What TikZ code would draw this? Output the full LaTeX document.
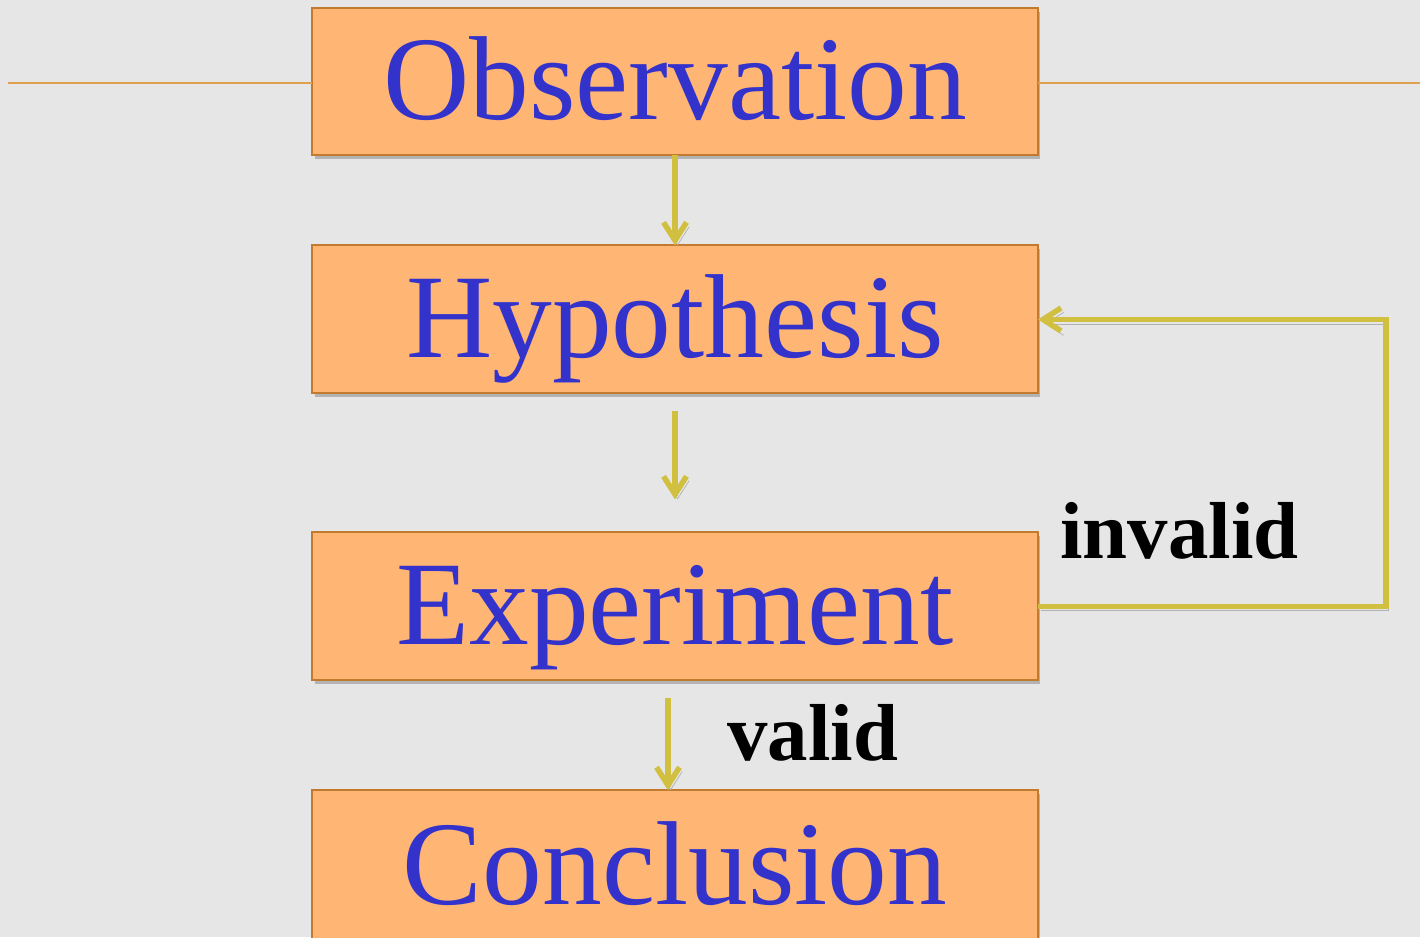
\documentclass[tikz,border=0pt]{standalone}
\usepackage{fontspec}
\setmainfont{Liberation Serif}
\usepackage{xcolor}
\usepackage{tikz}
\usetikzlibrary{arrows.meta,positioning,shadows}
\definecolor{sciback}{HTML}{E6E6E6}
\definecolor{scifill}{HTML}{FFB574}
\definecolor{sciedge}{HTML}{C27A2E}
\definecolor{sciblue}{HTML}{3333CC}
\definecolor{sciarrow}{HTML}{D1BF3F}
\definecolor{scirule}{HTML}{E0A050}

\begin{document}
\begin{tikzpicture}[
  x=0.02cm,y=-0.02cm,
  node distance=1.8cm,
  stage/.style={draw=sciedge,line width=0.04cm,fill=scifill,minimum width=14.52cm,minimum height=2.96cm,
    inner sep=0pt,outer sep=0pt,text=sciblue,font=\fontsize{68}{80}\selectfont,text height=54pt,text depth=11pt,
    drop shadow={shadow xshift=0.05cm,shadow yshift=-0.08cm,opacity=0.22,fill=black}},
  verdict/.style={font=\fontsize{46}{54}\selectfont\bfseries,text=black,inner sep=0pt},
  arr/.style={draw=sciarrow,line width=0.11cm,-{Straight Barb[length=3.6mm,width=4.6mm]},
    preaction={draw=black!30,transform canvas={xshift=1.5pt,yshift=-2.5pt}}},
  rule/.style={draw=scirule,line width=0.04cm}
]
\path[use as bounding box,fill=sciback] (0,0) rectangle (1420,937);
\clip (0,0) rectangle (1420,937);

\coordinate (ruleleft) at (8,83);
\coordinate (ruleright) at (1420,83);

\node[stage] (obs) at (675,81.5) {Observation};
\node[stage,below=1.8cm of obs] (hyp) {Hypothesis};
\node[stage,below=2.78cm of hyp] (exp) {Experiment};
\node[stage,below=2.2cm of exp,minimum height=3.04cm] (con) {Conclusion};

\draw[rule] ([yshift=-0.03cm]obs.west) -- ([yshift=-0.03cm]obs.west -| ruleleft);
\draw[rule] ([yshift=-0.03cm]obs.east) -- ([yshift=-0.03cm]obs.east -| ruleright);

\draw[arr] (obs) -- (hyp);
\draw[arr,shorten <=0.36cm,shorten >=0.66cm] (hyp) -- (exp);
\draw[arr,shorten <=0.36cm] ([xshift=-0.14cm]exp.south) -- ([xshift=-0.14cm]con.north);
\draw[arr] (exp.east) -- ++(348,0) |- (hyp.east);

\node[verdict,anchor=base west] (invalidlbl) at (1060,558) {invalid};
\node[verdict,anchor=base west] (validlbl) at (727,760) {valid};
\end{tikzpicture}
\end{document}
